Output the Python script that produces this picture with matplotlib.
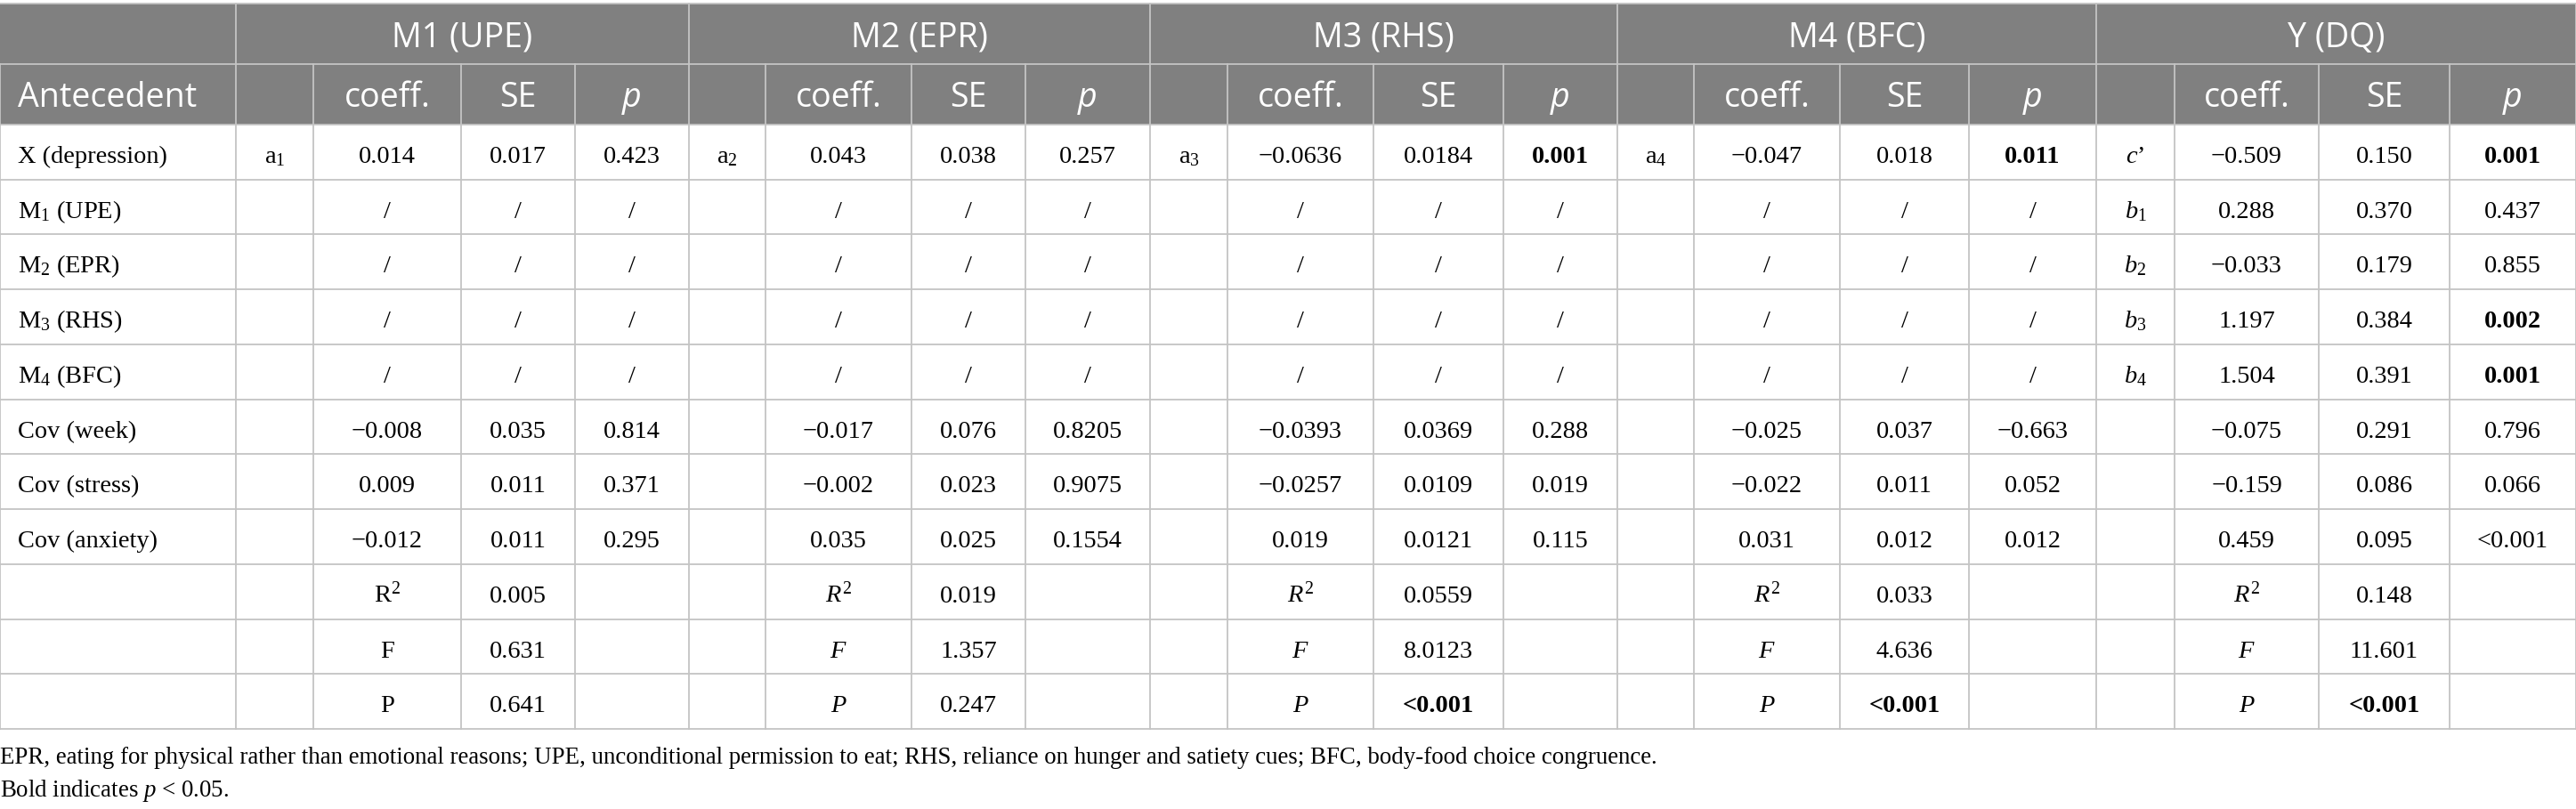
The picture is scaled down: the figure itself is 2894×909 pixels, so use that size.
import matplotlib
matplotlib.use("Agg")
import matplotlib.pyplot as plt

plt.rcParams['mathtext.fontset'] = 'custom'
plt.rcParams['mathtext.rm'] = 'Liberation Serif'
plt.rcParams['mathtext.it'] = 'Liberation Serif:italic'
plt.rcParams['mathtext.bf'] = 'Liberation Serif:bold'

# ---------------- data ----------------
groups = ["M1 (UPE)", "M2 (EPR)", "M3 (RHS)", "M4 (BFC)", "Y (DQ)"]
sub_headers = ["coeff.", "SE", "p"]
first_header = "Antecedent"
row_labels = ["X (depression)", "M$_1$ (UPE)", "M$_2$ (EPR)", "M$_3$ (RHS)",
              "M$_4$ (BFC)", "Cov (week)", "Cov (stress)", "Cov (anxiety)", "", "", ""]

M = "\u2212"
S = "/"
fit_m1 = ["R$^2$", "F", "P"]
fit_it = ["$R^2$", "$F$", "$P$"]

m1_lab = ["a$_1$"] + [""] * 10
m1_coef = ["0.014", S, S, S, S, M + "0.008", "0.009", M + "0.012"] + fit_m1
m1_se = ["0.017", S, S, S, S, "0.035", "0.011", "0.011", "0.005", "0.631", "0.641"]
m1_p = ["0.423", S, S, S, S, "0.814", "0.371", "0.295", "", "", ""]

m2_lab = ["a$_2$"] + [""] * 10
m2_coef = ["0.043", S, S, S, S, M + "0.017", M + "0.002", "0.035"] + fit_it
m2_se = ["0.038", S, S, S, S, "0.076", "0.023", "0.025", "0.019", "1.357", "0.247"]
m2_p = ["0.257", S, S, S, S, "0.8205", "0.9075", "0.1554", "", "", ""]

m3_lab = ["a$_3$"] + [""] * 10
m3_coef = [M + "0.0636", S, S, S, S, M + "0.0393", M + "0.0257", "0.019"] + fit_it
m3_se = ["0.0184", S, S, S, S, "0.0369", "0.0109", "0.0121", "0.0559", "8.0123", "<0.001"]
m3_p = ["0.001", S, S, S, S, "0.288", "0.019", "0.115", "", "", ""]

m4_lab = ["a$_4$"] + [""] * 10
m4_coef = [M + "0.047", S, S, S, S, M + "0.025", M + "0.022", "0.031"] + fit_it
m4_se = ["0.018", S, S, S, S, "0.037", "0.011", "0.012", "0.033", "4.636", "<0.001"]
m4_p = ["0.011", S, S, S, S, M + "0.663", "0.052", "0.012", "", "", ""]

y_lab = ["$c$\u2019", "$b_1$", "$b_2$", "$b_3$", "$b_4$", "", "", "", "", "", ""]
y_coef = [M + "0.509", "0.288", M + "0.033", "1.197", "1.504", M + "0.075", M + "0.159", "0.459"] + fit_it
y_se = ["0.150", "0.370", "0.179", "0.384", "0.391", "0.291", "0.086", "0.095", "0.148", "11.601", "<0.001"]
y_p = ["0.001", "0.437", "0.855", "0.002", "0.001", "0.796", "0.066", "<0.001", "", "", ""]

# bold cells: (column index within group: 1=coeff,2=SE,3=p, row index)
m1_bold = []
m2_bold = []
m3_bold = [(3, 0), (2, 10)]
m4_bold = [(3, 0), (2, 10)]
y_bold = [(3, 0), (3, 3), (3, 4), (2, 10)]

group_data = [
    (m1_lab, m1_coef, m1_se, m1_p, m1_bold),
    (m2_lab, m2_coef, m2_se, m2_p, m2_bold),
    (m3_lab, m3_coef, m3_se, m3_p, m3_bold),
    (m4_lab, m4_coef, m4_se, m4_p, m4_bold),
    (y_lab, y_coef, y_se, y_p, y_bold),
]

footnote1 = ("EPR, eating for physical rather than emotional reasons; UPE, unconditional permission to eat; "
             "RHS, reliance on hunger and satiety cues; BFC, body-food choice congruence.")
footnote2 = "Bold indicates $p$ < 0.05."

# ---------------- layout ----------------
W, H = 2894, 909
col_edges = [0, 265, 352, 518, 646, 774, 860, 1024, 1152, 1292, 1379, 1543, 1689,
             1817, 1903, 2067, 2212, 2355, 2443, 2605, 2752, 2894]
group_edges = [265, 774, 1292, 1817, 2355, 2894]
top = 4
h1_bot = 72
h2_bot = 140
n_rows = 11
row_h = (819 - h2_bot) / n_rows

HEADER_BG = "#808080"
GRID = "#c4c4c4"
SERIF = "Liberation Serif"
SANS = "Open Sans"

fig = plt.figure(figsize=(W / 100, H / 100), dpi=100)
ax = fig.add_axes([0, 0, 1, 1])
ax.set_xlim(0, W)
ax.set_ylim(H, 0)
ax.axis("off")

renderer = fig.canvas.get_renderer()


def fitted_size(text, target_w, **kw):
    t = ax.text(0, 0, text, fontsize=20, **kw)
    w = t.get_window_extent(renderer=renderer).width
    t.remove()
    return 20 * target_w / w


body_fs = fitted_size("Cov (anxiety)", 157, family=SERIF)
head_fs = fitted_size("Antecedent", 200, family=SANS)
foot_fs = fitted_size(footnote1, 1861, family=SERIF)

# header background
ax.add_patch(plt.Rectangle((0, top), W, h2_bot - top, color=HEADER_BG, lw=0, zorder=0))

lw = 1.3
# horizontal lines
ax.plot([0, W], [top, top], color=GRID, lw=lw)
ax.plot([0, W], [h1_bot, h1_bot], color=GRID, lw=lw)
for i in range(n_rows + 1):
    y = h2_bot + i * row_h
    ax.plot([0, W], [y, y], color=GRID, lw=lw)
# vertical lines
for x in group_edges:
    ax.plot([x, x], [top, h1_bot], color=GRID, lw=lw)
for x in col_edges:
    ax.plot([x, x], [h1_bot, h2_bot + n_rows * row_h], color=GRID, lw=lw)

# header row 1
for g, name in enumerate(groups):
    xc = (group_edges[g] + group_edges[g + 1]) / 2
    ax.text(xc, 53, name, ha="center", va="baseline", family=SANS,
            fontsize=head_fs, color="white")

# header row 2
ax.text(20, 120, first_header, ha="left", va="baseline", family=SANS,
        fontsize=head_fs, color="white")
for g in range(len(groups)):
    base = 1 + g * 4
    for k, sh in enumerate(sub_headers):
        c = base + 1 + k
        xc = (col_edges[c] + col_edges[c + 1]) / 2
        ax.text(xc, 120, sh, ha="center", va="baseline", family=SANS,
                fontsize=head_fs, color="white",
                style="italic" if sh == "p" else "normal")

# body
for r, lab in enumerate(row_labels):
    yb = h2_bot + r * row_h + 43
    ax.text(20, yb, lab, ha="left", va="baseline", family=SERIF,
            fontsize=body_fs, color="black")

for g, (lab, coef, se, pv, bold) in enumerate(group_data):
    base = 1 + g * 4
    cols = [lab, coef, se, pv]
    for k, col in enumerate(cols):
        c = base + k
        xc = (col_edges[c] + col_edges[c + 1]) / 2
        for r, val in enumerate(col):
            if not val:
                continue
            yb = h2_bot + r * row_h + 43
            ax.text(xc, yb, val, ha="center", va="baseline", family=SERIF,
                    fontsize=body_fs, color="black",
                    weight="bold" if (k, r) in bold else "normal")

# footnotes
ax.text(0, 858, footnote1, ha="left", va="baseline", family=SERIF,
        fontsize=foot_fs, color="black")
ax.text(0, 895, footnote2, ha="left", va="baseline", family=SERIF,
        fontsize=foot_fs, color="black")

fig.savefig("out.png", dpi=100)
